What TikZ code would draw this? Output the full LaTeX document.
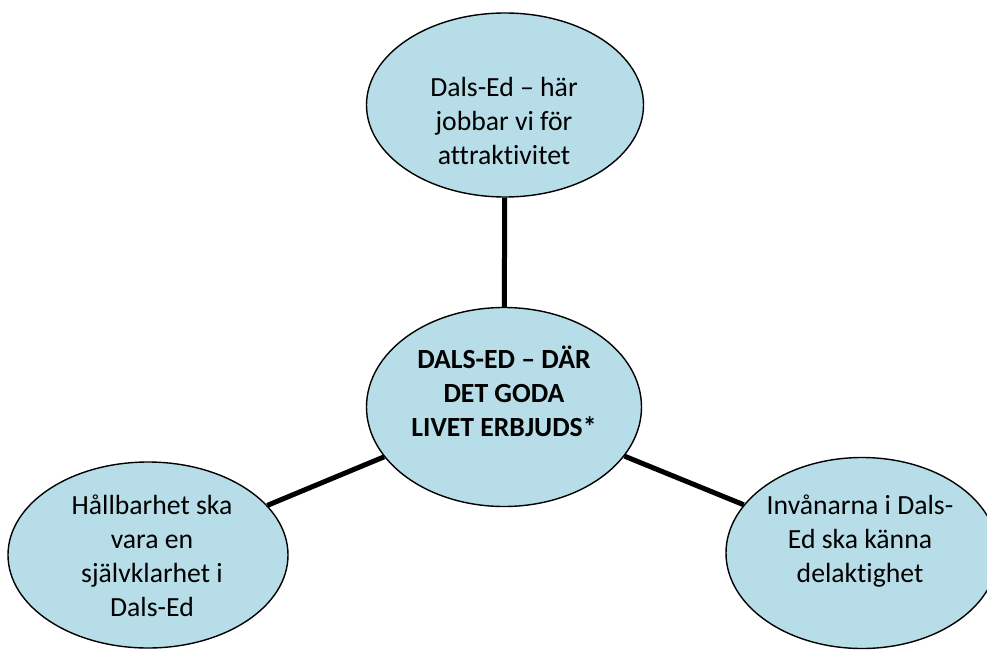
\documentclass[tikz,border=0pt]{standalone}
\usepackage{fontspec}
\setmainfont{Carlito}[Ligatures={NoCommon}]
\usetikzlibrary{shapes.geometric,backgrounds}
\definecolor{bubblefill}{HTML}{B7DEE8}
\tikzset{
  bubble/.style={ellipse, draw=black, line width=1.4pt, fill=bubblefill, inner sep=0pt},
  bubtext/.style={align=center, font=\fontsize{27.7}{34}\selectfont, inner sep=0pt},
  link/.style={line width=5pt}
}

\begin{document}
\begin{tikzpicture}[x=1pt,y=-1pt]
\useasboundingbox (0,0) rectangle (987,650);
\clip (0,0) rectangle (987,650);
\node[bubble, minimum width=277pt, minimum height=184pt] (top) at (505,105) {};
\node[bubble, minimum width=275pt, minimum height=199pt] (hub) at (504,407) {};
\node[bubble, minimum width=280pt, minimum height=186pt] (left) at (148,555) {};
\node[bubble, minimum width=272pt, minimum height=191pt] (right) at (862,553) {};
\begin{scope}[on background layer]
\draw[link] (top) -- (hub);
\draw[link] (left) -- (hub);
\draw[link] (right) -- (hub);
\end{scope}
\node[bubtext] (toptext) at (504,121) {Dals-Ed – här\\jobbar vi för\\attraktivitet};
\node[bubtext, font=\fontsize{27.7}{34}\selectfont\bfseries] (hubtext) at (504,391) {DALS-ED – DÄR\\DET GODA\\LIVET ERBJUDS*};
\node[bubtext] (lefttext) at (152,556) {Hållbarhet ska\\vara en\\självklarhet i\\Dals-Ed};
\node[bubtext] (righttext) at (860,541) {Invånarna i Dals-\\Ed ska känna\\delaktighet};
\end{tikzpicture}
\end{document}
